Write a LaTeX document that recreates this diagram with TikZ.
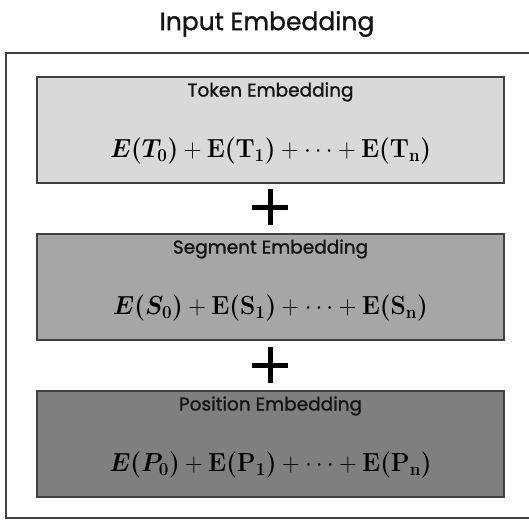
\documentclass[tikz,border=0pt]{standalone}
\usepackage{amsmath,bm}
\usepackage{fontspec}
\newfontfamily\labelfont[FakeBold=1.2]{Poppins}
\definecolor{edge}{HTML}{404040}
\definecolor{tokfill}{HTML}{D9D9D9}
\definecolor{segfill}{HTML}{A6A6A6}
\definecolor{posfill}{HTML}{7F7F7F}
\definecolor{ink}{HTML}{141414}
\tikzset{
  x=1pt, y=-1pt,
  embbox/.style={draw=edge, line width=2pt, minimum width=467pt, minimum height=106pt,
    inner sep=0pt, anchor=north west},
  boxtitle/.style={font=\labelfont\fontsize{18.5}{22}\selectfont, text=ink},
  formula/.style={font=\huge, text=black},
  plusarm/.style={line width=5pt, black},
}
\begin{document}
\begin{tikzpicture}
\useasboundingbox (0,0) rectangle (529,519);
% title and outer frame
\node[font=\labelfont\fontsize{25}{30}\selectfont, text=ink] (title) at (267,24) {Input Embedding};
\draw[edge, line width=2pt] (535,52.5) -- (6,52.5) -- (6,517.5) -- (535,517.5);
% the three embedding layers
\node[embbox, fill=tokfill] (tok) at (36,76) {};
\node[embbox, fill=segfill] (seg) at (36,233) {};
\node[embbox, fill=posfill] (pos) at (36,390) {};
\foreach \b/\name/\s in {tok/Token/T, seg/Segment/S, pos/Position/P}{
  \node[boxtitle] (\b-label) at ([yshift=-16pt]\b.north) {\name\ Embedding};
  \node[formula] (\b-sum) at ([yshift=-75pt]\b.north)
    {\scalebox{1.18}[1.26]{$\bm{E(\s_0)}+\bm{\mathbf{E(\s_1)}}+\cdots+\bm{\mathbf{E(\s_n)}}$}};
}
% plus signs between the layers
\node[minimum size=36pt, inner sep=0pt] (plus1) at (270,207) {};
\node[minimum size=36pt, inner sep=0pt] (plus2) at (270,365) {};
\foreach \p in {plus1,plus2}{
  \draw[plusarm] (\p.west) -- (\p.east);
  \draw[plusarm] (\p.north) -- (\p.south);
}
\end{tikzpicture}
\end{document}
